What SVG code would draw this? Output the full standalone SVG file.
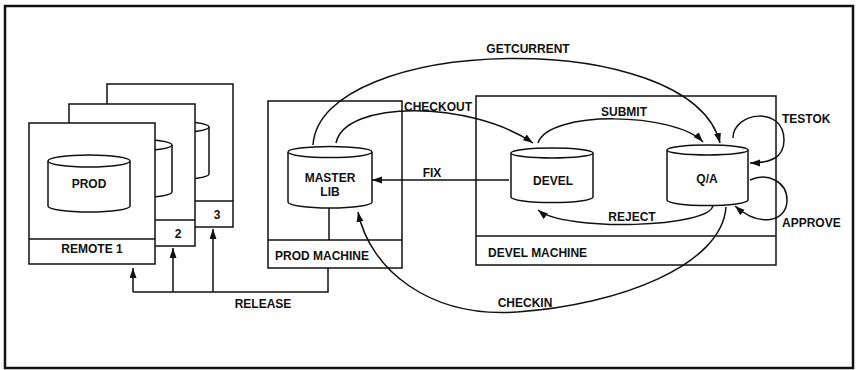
<svg xmlns="http://www.w3.org/2000/svg" width="859" height="370" viewBox="0 0 859 370">
<defs>
<style>
.box{fill:#fff;stroke:#111;stroke-width:1.5}
.ln{fill:none;stroke:#111;stroke-width:1.5}
.cyl{fill:#fff;stroke:#111;stroke-width:1.5}
.t{font-family:"Liberation Sans",Arial,sans-serif;font-weight:bold;font-size:12px;fill:#111}
.c{text-anchor:middle}
.con{fill:none;stroke:#111;stroke-width:1.5}
.arr{marker-end:url(#ah)}
</style>
<marker id="ah" markerUnits="userSpaceOnUse" markerWidth="11" markerHeight="8" refX="10" refY="3.5" orient="auto">
<path d="M0,0 L10,3.5 L0,7 z" fill="#111"/>
</marker>
</defs>
<rect width="859" height="370" fill="#fff"/>
<rect x="5" y="6" width="848" height="362" fill="none" stroke="#111" stroke-width="2.5"/>

<g id="remote3">
<rect class="box" x="107" y="84" width="126" height="143"/>
<line class="ln" x1="107" y1="201" x2="233" y2="201"/>
<path class="cyl" d="M127,127 L127,174 A41,6 0 0 0 209,174 L209,127"/>
<ellipse class="cyl" cx="168" cy="127" rx="41" ry="6"/>
<text class="t c" x="217" y="219">3</text>
</g>
<g id="remote2">
<rect class="box" x="69" y="104" width="126" height="142"/>
<line class="ln" x1="69" y1="220" x2="195" y2="220"/>
<path class="cyl" d="M90,145 L90,192 A41,6 0 0 0 172,192 L172,145"/>
<ellipse class="cyl" cx="131" cy="145" rx="41" ry="6"/>
<text class="t c" x="178" y="238">2</text>
</g>
<g id="remote1">
<rect class="box" x="29" y="123" width="126" height="141"/>
<line class="ln" x1="29" y1="239" x2="155" y2="239"/>
<path class="cyl" d="M48,161 L48,206 A41,6 0 0 0 130,206 L130,161"/>
<ellipse class="cyl" cx="89" cy="161" rx="41" ry="6"/>
<text class="t c" x="89" y="188">PROD</text>
<text class="t c" x="92" y="253">REMOTE 1</text>
</g>

<g id="prod-machine">
<rect class="box" x="268" y="101" width="134" height="167"/>
<line class="ln" x1="268" y1="240" x2="402" y2="240"/>
<line class="ln" x1="329" y1="208" x2="329" y2="240"/>
<path class="cyl" d="M288,152 L288,202 A42,6 0 0 0 372,202 L372,152"/>
<ellipse class="cyl" cx="330" cy="152" rx="42" ry="5.5"/>
<text class="t c" x="330" y="182">MASTER</text>
<text class="t c" x="330" y="196">LIB</text>
<text class="t c" x="322" y="260">PROD MACHINE</text>
</g>

<g id="devel-machine">
<rect class="box" x="476" y="96" width="300" height="169"/>
<line class="ln" x1="476" y1="236" x2="776" y2="236"/>
<text class="t" x="488" y="257">DEVEL MACHINE</text>
</g>
<g id="devel">
<path class="cyl" d="M511,153 L511,197 A41,5.5 0 0 0 593,197 L593,153"/>
<ellipse class="cyl" cx="552" cy="153" rx="41" ry="5"/>
<text class="t c" x="553" y="185">DEVEL</text>
</g>
<g id="qa">
<path class="cyl" d="M667,150 L667,200 A40.5,5.5 0 0 0 748,200 L748,150"/>
<ellipse class="cyl" cx="707.5" cy="150" rx="40.5" ry="5"/>
<text class="t c" x="707" y="183">Q/A</text>
</g>

<g id="connectors">
<path class="con arr" d="M313,145 C320,35 690,25 720,143"/>
<path class="con arr" d="M336,143 C345,100 470,100 533,143"/>
<path class="con arr" d="M538,143 C548,110 675,112 703,142"/>
<path class="con arr" d="M509,180 L372,180"/>
<path class="con arr" d="M713,205 C712,228 565,232 538,210"/>
<path class="con arr" d="M733,138 C733,112 784,105 784,140 C784,158 770,163 750,163"/>
<path class="con arr" d="M750,180 C768,172 787,182 787,200 C787,222 760,228 735,206"/>
<path class="con arr" d="M726,207 C722,265 620,305 517,312 C430,318 370,270 358,212"/>
<path class="con" d="M328,268 L328,292 L133,292"/>
<path class="con arr" d="M133,292 L133,268"/>
<path class="con arr" d="M173,292 L173,248"/>
<path class="con arr" d="M213,292 L213,229"/>
<g id="connector-labels">
<text class="t c" x="528" y="53">GETCURRENT</text>
<text class="t c" x="438" y="111">CHECKOUT</text>
<text class="t c" x="624" y="116">SUBMIT</text>
<text class="t c" x="432" y="177">FIX</text>
<text class="t c" x="632" y="221">REJECT</text>
<text class="t" x="782" y="123">TESTOK</text>
<text class="t" x="782" y="227">APPROVE</text>
<text class="t c" x="525" y="307">CHECKIN</text>
<text class="t c" x="263" y="308">RELEASE</text>
</g>
</g>
</svg>
